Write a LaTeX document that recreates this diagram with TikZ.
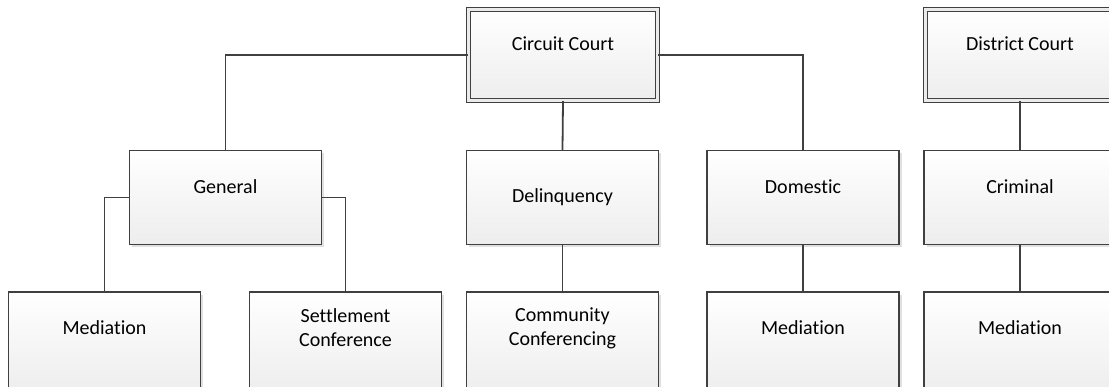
\documentclass[tikz,border=0pt]{standalone}
\usepackage{fontspec}
\setmainfont{Carlito}[Ligatures=NoCommon]
\usetikzlibrary{shadows}

\begin{document}
\begin{tikzpicture}[x=1pt, y=-1pt,
  boxbase/.style={draw=black!75, line width=1.3pt, top color=white, bottom color=black!7,
    minimum width=192pt, minimum height=94pt, inner sep=0pt,
    drop shadow={shadow xshift=2.5pt, shadow yshift=-2.5pt, fill=black, opacity=0.12}},
  boxtext/.style={align=center, font=\fontsize{20}{24}\selectfont},
  box/.style={boxbase, label={[boxtext, yshift=11pt]center:#1}},
  midbox/.style={boxbase, label={[boxtext]center:#1}},
  lowbox/.style={boxbase, minimum height=102pt, label={[boxtext, yshift=15pt]center:#1}},
  court/.style={box=#1, double=black!8, double distance=2.2pt, line width=1.2pt,
    minimum width=189pt, minimum height=91pt},
  link/.style={draw=black!75, line width=1.8pt}]
\useasboundingbox (0,0) rectangle (1109,386);
% top level
\node[court=Circuit Court] (circuit) at (563,55) {};
\node[court=District Court] (district) at (1020,55) {};
% case types
\node[box=General] (general) at (225.5,197.5) {};
\node[midbox=Delinquency] (delinq) at (562.5,197.5) {};
\node[box=Domestic] (domestic) at (803,197.5) {};
\node[box=Criminal] (criminal) at (1020,197.5) {};
% programs
\node[lowbox=Mediation] (medgen) at (104.5,343) {};
\node[lowbox={Settlement\\Conference}] (settle) at (345.5,343) {};
\node[lowbox={Community\\Conferencing}] (commun) at (562.5,343) {};
\node[lowbox=Mediation] (meddom) at (803,343) {};
\node[lowbox=Mediation] (medcrim) at (1020,343) {};
% connectors
\draw[link] (circuit.west) -| (general.north);
\draw[link] (circuit.east) -| (domestic.north);
\draw[link] (general.west) -| (medgen.north);
\draw[link] (general.east) -| (settle.north);
\foreach \a/\b in {circuit/delinq, district/criminal, delinq/commun, domestic/meddom, criminal/medcrim}{
\draw[link] (\a.south) -- (\b.north);
}
\end{tikzpicture}
\end{document}
